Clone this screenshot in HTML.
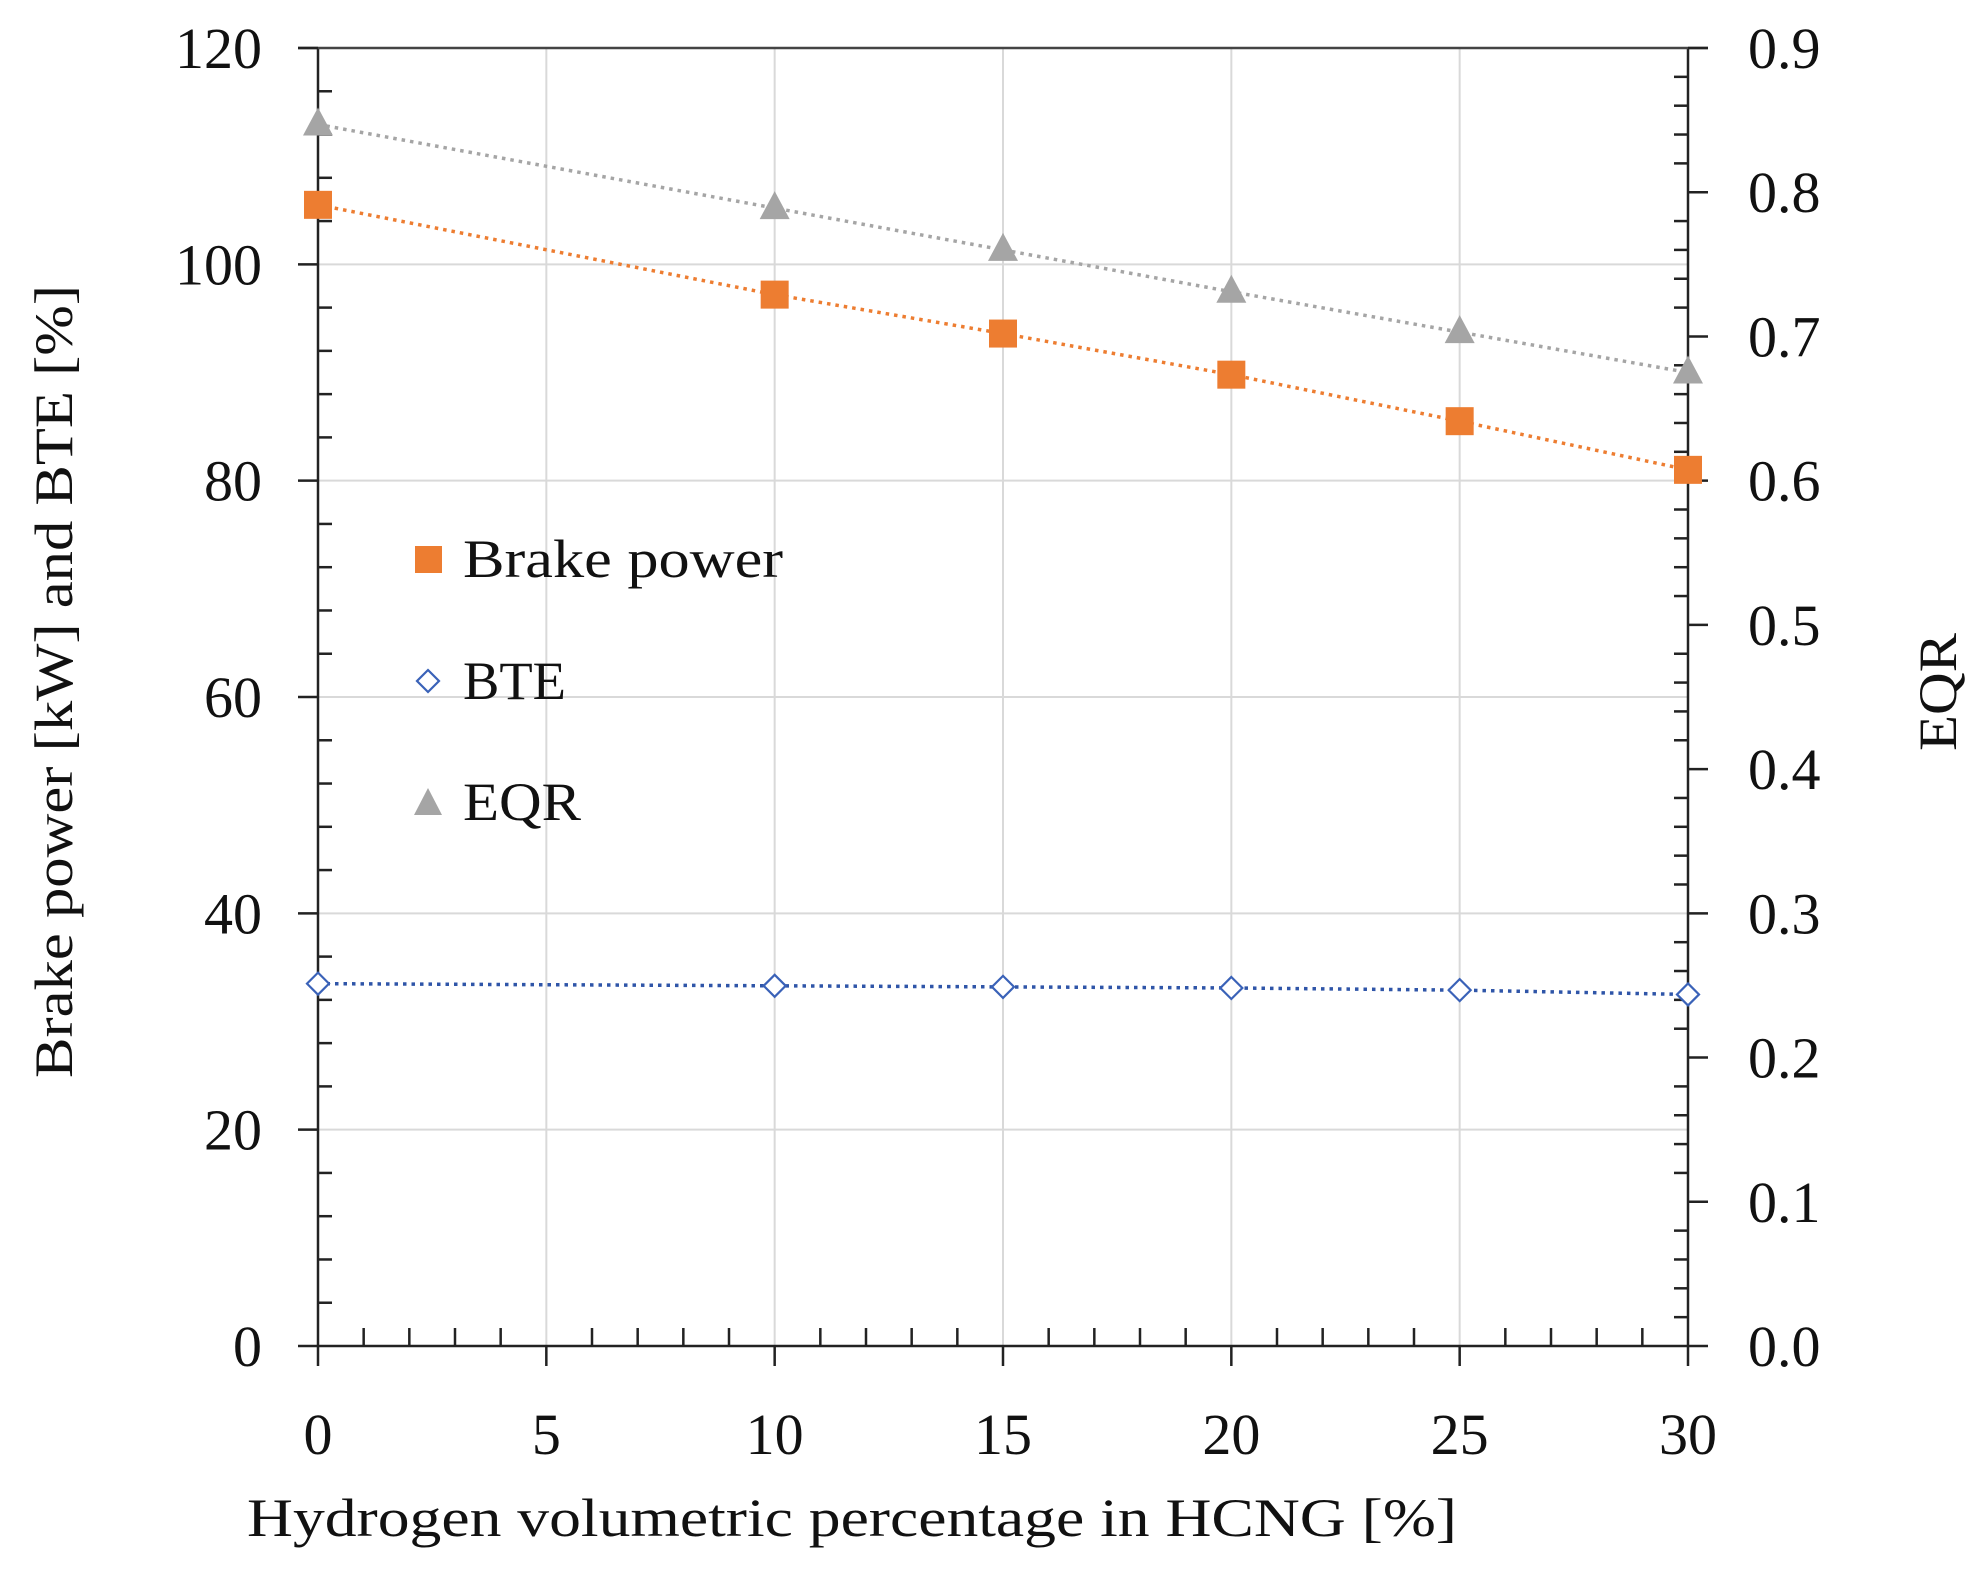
<!DOCTYPE html>
<html><head><meta charset="utf-8">
<style>
html,body{margin:0;padding:0;background:#fff;}
svg{display:block;font-family:"Liberation Serif",serif;}
</style></head>
<body>
<svg id="chart" width="1980" height="1582" viewBox="0 0 1980 1582" xmlns="http://www.w3.org/2000/svg"></svg>
<script>
const categories = [0, 10, 15, 20, 25, 30];
const brakePower = [105.5, 97.2, 93.6, 89.8, 85.5, 81.0];
const bte = [33.5, 33.3, 33.2, 33.1, 32.9, 32.5];
const eqr = [0.847, 0.789, 0.760, 0.731, 0.703, 0.675];
const xTicks = [0, 5, 10, 15, 20, 25, 30];
const yLeftTicks = [0, 20, 40, 60, 80, 100, 120];
const yRightTicks = ["0.0","0.1","0.2","0.3","0.4","0.5","0.6","0.7","0.8","0.9"];

const L=318,R=1688,T=48,B=1346;
const NS="http://www.w3.org/2000/svg";
const svg=document.getElementById('chart');
const xs=v=>L+(v-0)/30*(R-L);
const yl=v=>B-(v/120)*(B-T);
const yr=v=>B-(v/0.9)*(B-T);
function mk(tag,attrs,parent){const e=document.createElementNS(NS,tag);for(const k in attrs)e.setAttribute(k,attrs[k]);(parent||svg).appendChild(e);return e;}

// grid
const grid=mk('g',{});


xTicks.forEach(v=>{if(v>0&&v<30)mk('line',{x1:xs(v),x2:xs(v),y1:T,y2:B,stroke:'#d9d9d9','stroke-width':2},grid);});
yLeftTicks.forEach(v=>{if(v>0&&v<120)mk('line',{x1:L,x2:R,y1:yl(v),y2:yl(v),stroke:'#d9d9d9','stroke-width':2},grid);});

// axes
const ax=mk('g',{stroke:'#222','stroke-width':2.5});


mk('line',{x1:L,x2:L,y1:T,y2:B},ax);
mk('line',{x1:R,x2:R,y1:T,y2:B},ax);
mk('line',{x1:L,x2:R,y1:B,y2:B},ax);
mk('line',{x1:L-20,x2:R+20,y1:T,y2:T,stroke:'#444'},ax);
for(let v=0;v<=120;v+=4){const y=yl(v);if(v%20===0)mk('line',{x1:L-20,x2:L,y1:y,y2:y},ax);else mk('line',{x1:L,x2:L+14,y1:y,y2:y},ax);}
for(let i=0;i<=45;i++){const v=i*0.02;const y=yr(v);if(i%5===0)mk('line',{x1:R,x2:R+20,y1:y,y2:y},ax);else mk('line',{x1:R-14,x2:R,y1:y,y2:y},ax);}
for(let v=0;v<=30;v++){const x=xs(v);if(v%5===0)mk('line',{x1:x,x2:x,y1:B,y2:B+20},ax);else mk('line',{x1:x,x2:x,y1:B-18,y2:B},ax);}

// tick labels
yLeftTicks.forEach(v=>{const t=mk('text',{x:262,y:yl(v)+20,'text-anchor':'end','font-size':58,fill:'#111'});t.textContent=v;});
yRightTicks.forEach((s,i)=>{const t=mk('text',{x:1748,y:yr(i*0.1)+20,'text-anchor':'start','font-size':58,fill:'#111'});t.textContent=s;});
xTicks.forEach(v=>{const t=mk('text',{x:xs(v),y:1454,'text-anchor':'middle','font-size':58,fill:'#111'});t.textContent=v;});

// titles
let tt=mk('text',{x:247,y:1536,'font-size':54,fill:'#111',textLength:1210,lengthAdjust:'spacingAndGlyphs'});

tt.textContent='Hydrogen volumetric percentage in HCNG [%]';
tt=mk('text',{x:-396,y:0,'font-size':54,fill:'#111',textLength:793,lengthAdjust:'spacingAndGlyphs',transform:'translate(72,682) rotate(-90)'});

tt.textContent='Brake power [kW] and BTE [%]';
tt=mk('text',{x:-59,y:0,'font-size':54,fill:'#111',textLength:118,lengthAdjust:'spacingAndGlyphs',transform:'translate(1956,692) rotate(-90)'});

tt.textContent='EQR';

// series
function line(vals,yf,color,name){const g=mk('g',{});
 mk('polyline',{points:vals.map((v,i)=>xs(categories[i])+','+yf(v)).join(' '),fill:'none',stroke:color,'stroke-width':3.5,'stroke-dasharray':'3.5 5'},g);return g;}
const gE=line(eqr,yr,'#a5a5a5','eqr-series');
eqr.forEach((v,i)=>{const x=xs(categories[i]),y=yr(v);const p=mk('polygon',{points:`${x},${y-17} ${x-15},${y+11} ${x+15},${y+11}`,fill:'#a5a5a5'},gE);});
const gB=line(brakePower,yl,'#ed7d31','brake-power-series');
brakePower.forEach((v,i)=>{const x=xs(categories[i]),y=yl(v);const p=mk('rect',{x:x-14,y:y-14,width:28,height:28,fill:'#ed7d31'},gB);});
const gT=line(bte,yl,'#2f55a8','bte-series');
bte.forEach((v,i)=>{const x=xs(categories[i]),y=yl(v);const p=mk('polygon',{points:`${x},${y-11} ${x+11},${y} ${x},${y+11} ${x-11},${y}`,fill:'#fff',stroke:'#3a62b8','stroke-width':2.2},gT);});

// legend
const lg=mk('g',{});
let e=mk('rect',{x:415,y:546,width:27,height:27,fill:'#ed7d31'},lg);
e=mk('text',{x:463,y:577,'font-size':54,fill:'#111',textLength:320,lengthAdjust:'spacingAndGlyphs'},lg);e.textContent='Brake power';
e=mk('polygon',{points:'428,670 439,681 428,692 417,681',fill:'#fff',stroke:'#3a62b8','stroke-width':2.2},lg);
e=mk('text',{x:463,y:699,'font-size':54,fill:'#111',textLength:103,lengthAdjust:'spacingAndGlyphs'},lg);e.textContent='BTE';
e=mk('polygon',{points:'428,788 414,815 442,815',fill:'#a5a5a5'},lg);
e=mk('text',{x:463,y:820,'font-size':54,fill:'#111',textLength:118,lengthAdjust:'spacingAndGlyphs'},lg);e.textContent='EQR';
</script>
</body></html>
